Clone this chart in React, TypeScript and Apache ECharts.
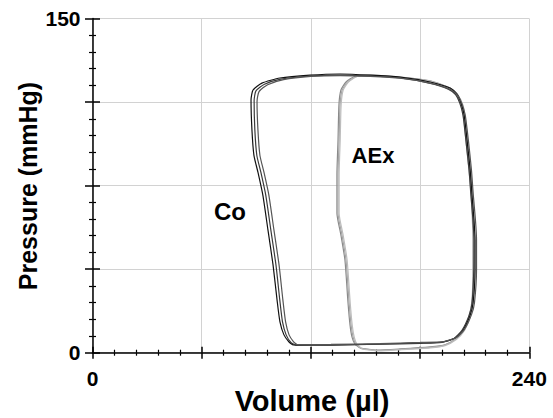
import React, { useEffect, useRef } from "react";
import * as echarts from "echarts";

// Axis settings / tick labels
const xRange = [0, 240];
const yRange = [0, 150];
const xShownLabels = [0, 240];
const yShownLabels = [0, 150];
const xInterval = 60;
const yInterval = 37.5;

// Pressure-volume loops: [volume µl, pressure mmHg]
const co1 = [[110.2,3.5],[130.5,3.5],[158.0,3.9],[180.0,4.4],[192.6,4.8],[199.2,6.6],[203.6,10.2],[207.5,16.9],[209.1,22.3],[210.2,37.1],[210.2,50.6],[209.6,59.5],[208.5,70.8],[207.5,82.0],[205.8,95.4],[204.2,106.7],[202.5,112.1],[200.3,116.1],[196.5,118.8],[185.5,121.5],[169.0,123.7],[152.5,124.6],[136.0,125.1],[119.5,124.6],[103.0,123.3],[93.1,121.0],[88.2,117.9],[87.1,113.4],[87.6,100.1],[88.7,88.6],[90.9,81.0],[93.6,70.7],[96.4,55.1],[99.2,39.4],[101.4,23.7],[103.0,13.8],[105.2,8.0],[108.0,4.8],[110.2,3.5]];
const co2 = [[111.5,3.3],[131,3.4],[158,3.8],[180,4.2],[192,4.6],[198.6,6.4],[203,10],[206.8,16.5],[208.5,22],[209.5,37],[209.6,50.5],[209,60],[207.9,71],[206.9,82],[205.2,95],[203.6,106.5],[201.8,112],[199.5,115.8],[195.5,118.3],[185,121],[169,123.3],[152.5,124.2],[136,124.6],[119.5,124.2],[103.5,122.8],[94.5,120.5],[89.8,117.5],[88.8,113],[89.2,100],[90.3,88.5],[92.5,81],[95.2,70.7],[98,55],[100.8,39.4],[102.9,23.7],[104.4,13.8],[106.4,8],[109,4.6],[111.5,3.3]];
const co3 = [[112.5,3.6],[131,3.7],[158,4.1],[180,4.6],[193,5],[200,6.8],[204.4,10.5],[208.3,17.2],[209.9,22.6],[211,37.3],[211,50.8],[210.4,59.7],[209.2,71],[208.2,82.2],[206.5,95.5],[204.8,106.6],[203,111.8],[200.6,115.6],[196.5,118.2],[185.5,121],[169,123.2],[152.5,124],[136,124.4],[120,124],[105,122.6],[96.2,120.3],[91.5,117.2],[90.4,112.8],[90.9,100],[92,88.5],[94.2,81],[96.9,70.7],[99.7,55],[102.5,39.4],[104.6,23.7],[106.1,13.8],[108,8],[110.5,4.9],[112.5,3.6]];
const aex1 = [[147.2,2.1],[156.3,1.2],[169,1.7],[185.5,2.6],[193.7,3.5],[199.7,6.2],[204.2,10.2],[207.5,16.5],[209.1,23.7],[209.6,37.1],[209.6,50.6],[209.1,64],[208,77.5],[206.3,91],[204.7,104.4],[203.1,111.6],[200.3,116.1],[196.5,118.8],[185.5,122],[169,123.7],[152.5,124.6],[144.2,124.1],[139.3,121.5],[136.5,117.9],[135.4,111.2],[134.9,95.4],[134.3,79.7],[134.3,62.6],[136.5,52.8],[138.7,41.6],[140.4,22.3],[141.5,12.4],[142.6,7],[144.2,3.9],[147.2,2.1]];
const aex2 = [[147.8,1.8],[156.8,1.0],[169,1.5],[185.5,2.4],[193.2,3.3],[199.2,6.0],[203.6,10],[206.9,16.3],[208.5,23.5],[209,37],[209,50.5],[208.5,64],[207.4,77.5],[205.7,91],[204.1,104.2],[202.5,111.4],[199.8,115.9],[196,118.6],[185.5,121.8],[169,123.5],[152.8,124.4],[144.8,123.9],[139.9,121.3],[137.1,117.7],[136,111],[135.5,95.4],[134.9,79.7],[134.9,62.6],[137.1,52.8],[139.3,41.6],[141,22.3],[142.1,12.4],[143.2,7],[144.8,3.7],[147.8,1.8]];
const aex3 = [[148.4,1.6],[157.3,0.8],[169,1.3],[185.5,2.2],[193.7,3.2],[199.9,5.9],[204.4,10],[207.7,16.4],[209.3,23.6],[209.9,37],[209.9,50.5],[209.4,64],[208.3,77.5],[206.6,91],[205,104.3],[203.4,111.5],[200.5,116],[196.6,118.7],[185.5,121.9],[169,123.6],[153.2,124.5],[145.4,124],[140.5,121.4],[137.7,117.8],[136.6,111.1],[136.1,95.4],[135.5,79.7],[135.5,62.6],[137.7,52.8],[139.9,41.6],[141.6,22.3],[142.7,12.4],[143.8,7],[145.4,3.6],[148.4,1.6]];

const coLoops = [co1, co2, co3];
const aexLoops = [aex1, aex2, aex3];
const coColors = ["#111111", "#3a3a3a", "#555555"];
const aexColors = ["#8a8a8a", "#a5a5a5", "#bdbdbd"];

const FONT = "Liberation Sans, Arial, Helvetica, sans-serif";

export default function App() {
  const ref = useRef<HTMLDivElement>(null);
  useEffect(() => {
    document.body.style.margin = "0";
    const chart = echarts.init(ref.current!, null, { renderer: "svg" });
    const baseX = {
      type: "value",
      min: xRange[0],
      max: xRange[1],
      interval: xInterval,
      position: "bottom",
    };
    const baseY = {
      type: "value",
      min: yRange[0],
      max: yRange[1],
      interval: yInterval,
      position: "left",
    };
    const series: any[] = [];
    coLoops.forEach((d, i) =>
      series.push({
        type: "line",
        data: d,
        showSymbol: false,
        smooth: 0.2,
        lineStyle: { color: coColors[i], width: 1.2 },
        z: 3,
      })
    );
    aexLoops.forEach((d, i) =>
      series.push({
        type: "line",
        data: d,
        showSymbol: false,
        smooth: 0.2,
        lineStyle: { color: aexColors[i], width: 1.2 },
        z: 2,
      })
    );
    chart.setOption({
      animation: false,
      grid: { left: 92.5, top: 18.5, right: 23.7, bottom: 65.3, containLabel: false },
      xAxis: [
        {
          ...baseX,
          axisLine: { show: true, lineStyle: { color: "#000", width: 1.5 } },
          axisTick: { show: true, inside: false, length: 6, lineStyle: { color: "#000", width: 1.5 } },
          minorTick: { show: true, splitNumber: 5, length: 3, lineStyle: { color: "#000", width: 1.2 } },
          splitLine: { show: true, lineStyle: { color: "#d2d2d2", width: 1 } },
          axisLabel: {
            margin: 15,
            color: "#000",
            fontFamily: FONT,
            fontWeight: "bold",
            fontSize: 21,
            showMinLabel: true,
            showMaxLabel: true,
            formatter: (v: number) => (xShownLabels.includes(v) ? String(v) : ""),
          },
        },
        {
          ...baseX,
          axisLine: { show: false },
          axisTick: { show: true, inside: true, length: 6, lineStyle: { color: "#000", width: 1.5 } },
          minorTick: { show: true, splitNumber: 5, length: 3, lineStyle: { color: "#000", width: 1.2 } },
          splitLine: { show: false },
          axisLabel: { show: false },
        },
      ],
      yAxis: [
        {
          ...baseY,
          axisLine: { show: true, lineStyle: { color: "#000", width: 1.5 } },
          axisTick: { show: true, inside: false, length: 7.5, lineStyle: { color: "#000", width: 1.5 } },
          minorTick: { show: true, splitNumber: 5, length: 3.5, lineStyle: { color: "#000", width: 1.2 } },
          splitLine: { show: true, lineStyle: { color: "#d2d2d2", width: 1 } },
          axisLabel: {
            margin: 12,
            color: "#000",
            fontFamily: FONT,
            fontWeight: "bold",
            fontSize: 21,
            showMinLabel: true,
            showMaxLabel: true,
            formatter: (v: number) => (yShownLabels.includes(v) ? String(v) : ""),
          },
        },
        {
          ...baseY,
          axisLine: { show: false },
          axisTick: { show: true, inside: true, length: 7.5, lineStyle: { color: "#000", width: 1.5 } },
          minorTick: { show: true, splitNumber: 5, length: 3.5, lineStyle: { color: "#000", width: 1.2 } },
          splitLine: { show: false },
          axisLabel: { show: false },
        },
      ],
      series,
      graphic: [
        {
          type: "text",
          x: 28,
          y: 186,
          rotation: Math.PI / 2,
          style: {
            text: "Pressure (mmHg)",
            fill: "#000",
            font: `bold 25px ${FONT}`,
            align: "center",
            verticalAlign: "middle",
          },
        },
        {
          type: "text",
          x: 312,
          y: 401,
          style: {
            text: "Volume (µl)",
            fill: "#000",
            font: `bold 29px ${FONT}`,
            align: "center",
            verticalAlign: "middle",
          },
        },
        {
          type: "text",
          x: 373,
          y: 155,
          style: {
            text: "AEx",
            fill: "#000",
            font: `bold 22px ${FONT}`,
            align: "center",
            verticalAlign: "middle",
          },
        },
        {
          type: "text",
          x: 230,
          y: 211,
          style: {
            text: "Co",
            fill: "#000",
            font: `bold 24px ${FONT}`,
            align: "center",
            verticalAlign: "middle",
          },
        },
      ],
    });
    return () => chart.dispose();
  }, []);
  return <div ref={ref} style={{ width: 553, height: 418 }} />;
}
